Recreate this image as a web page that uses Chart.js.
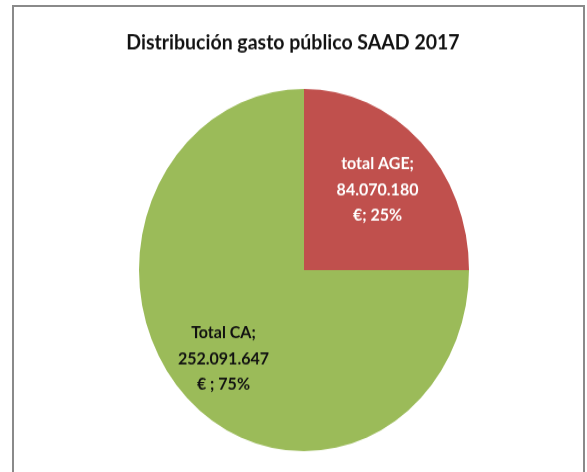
<!DOCTYPE html>
<html>
<head>
<meta charset="utf-8">
<script src="https://cdn.jsdelivr.net/npm/chart.js@4/dist/chart.umd.min.js"></script>
<style>
    html, body { margin: 0; padding: 0; background: #fff; overflow: hidden; }
    #frame {
        position: absolute; left: 12px; top: 5px; width: 573px; height: 480px;
        border: 2px solid #8a8a8a; border-bottom: none; box-sizing: border-box;
    }
    #wrap {
        position: absolute; left: 0; top: 0; width: 587px; height: 430px;
        transform: scaleY(1.0977); transform-origin: 0 0;
    }
</style>
</head>
<body>
<div id="frame"></div>
<div id="wrap"><canvas id="chart"></canvas></div>
<script>
const labels = ["total AGE", "Total CA"];
const values = [84070180, 252091647];
const sliceColors = ["#C0504D", "#9BBB59"];
const labelColors = ["#ffffff", "#111111"];
const chartTitle = "Distribución gasto público SAAD 2017";

// number with dots as thousand separator
function fmt(n) {
    return String(n).replace(/\B(?=(\d{3})+(?!\d))/g, ".");
}

const total = values.reduce((a, b) => a + b, 0);

// title is drawn here so it can sit a bit left of the pie centre, like the original
const titlePlugin = {
    id: 'titlePlugin',
    afterDraw(chart, args, opts) {
        const ctx = chart.ctx;
        ctx.save();
        ctx.fillStyle = '#111';
        ctx.font = "bold 19.5px Lato, 'Open Sans', sans-serif";
        ctx.textAlign = 'center';
        ctx.textBaseline = 'middle';
        ctx.fillText(opts.text, opts.x, opts.y);
        ctx.restore();
    }
};

// draws the Excel-like data labels inside each slice
const sliceLabels = {
    id: 'sliceLabels',
    afterDatasetsDraw(chart, args, opts) {
        const ctx = chart.ctx;
        const meta = chart.getDatasetMeta(0);
        meta.data.forEach((arc, i) => {
            const p = arc.getProps(['x', 'y', 'startAngle', 'endAngle', 'outerRadius'], true);
            const mid = (p.startAngle + p.endAngle) / 2;
            const r = p.outerRadius * opts.dist[i];
            const cx = p.x + Math.cos(mid) * r;
            const cy = p.y + Math.sin(mid) * r;
            const pct = Math.round(values[i] / total * 100);
            const lines = i === 0
                ? [labels[i] + ";", fmt(values[i]), "€; " + pct + "%"]
                : [labels[i] + ";", fmt(values[i]), "€ ; " + pct + "%"];
            ctx.save();
            ctx.fillStyle = labelColors[i];
            ctx.font = "bold 16px Lato, 'Open Sans', sans-serif";
            ctx.textAlign = 'center';
            ctx.textBaseline = 'middle';
            const lh = 23.5;
            lines.forEach((t, k) => {
                ctx.fillText(t, cx, cy + (k - 1) * lh);
            });
            ctx.restore();
        });
    }
};

new Chart(document.getElementById('chart'), {
    type: 'pie',
    data: {
        labels: labels,
        datasets: [{
            data: values,
            backgroundColor: sliceColors,
            borderWidth: 0
        }]
    },
    options: {
        responsive: true,
        maintainAspectRatio: false,
        animation: false,
        layout: { padding: { left: 21, right: 0, top: 81, bottom: 19 } },
        plugins: {
            legend: { display: false },
            tooltip: { enabled: false },
            title: { display: false },
            titlePlugin: { text: chartTitle, x: 293, y: 39 },
            sliceLabels: { dist: [0.63, 0.69] }
        }
    },
    plugins: [sliceLabels, titlePlugin]
});
</script>
</body>
</html>
